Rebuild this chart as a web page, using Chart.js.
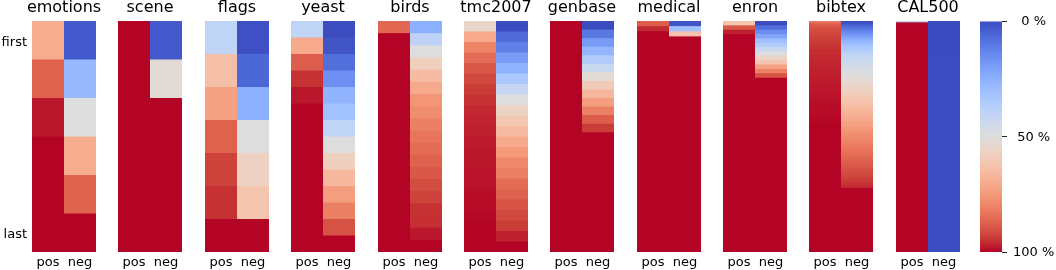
<!DOCTYPE html>
<html><head><meta charset="utf-8">
<script src="https://cdn.jsdelivr.net/npm/chart.js@4.4.1/dist/chart.umd.min.js"></script>
<style>
html,body{margin:0;padding:0;background:#fff;width:1056px;height:270px;overflow:hidden;}
#wrap{position:relative;width:1056px;height:270px;}
canvas{position:absolute;top:0;}
</style></head><body><div id="wrap"></div>
<script>
// ---------- data ----------
const panelTitles = ['emotions','scene','flags','yeast','birds','tmc2007','genbase','medical','enron','bibtex','CAL500'];
const columnLabels = ['pos','neg'];
const rowTickLabels = ['first','last'];
const colorbarTicks = [0, 50, 100];

const emotionsPos = [0.70,0.87,0.98,1,1,1];
const emotionsNeg = [0.03,0.28,0.50,0.70,0.87,1];
const scenePos = [1,1,1,1,1,1];
const sceneNeg = [0.03,0.52,1,1,1,1];
const flagsPos = [0.40,0.64,0.73,0.87,0.93,0.95,1];
const flagsNeg = [0.01,0.06,0.25,0.50,0.57,0.62,1];
const yeastPos = [0.40,0.71,0.88,0.95,0.98,1,1,1,1,1,1,1,1,1];
const yeastNeg = [0.00,0.02,0.08,0.16,0.26,0.31,0.40,0.50,0.58,0.66,0.74,0.81,0.90,1];
const birdsPos = [0.86,1,1,1,1,1,1,1,1,1,1,1,1,1,1,1,1,1,1];
const birdsNeg = [0.25,0.39,0.50,0.58,0.65,0.71,0.76,0.78,0.81,0.83,0.85,0.87,0.89,0.91,0.93,0.95,0.955,0.98,1];
const tmc2007Pos = [0.55,0.71,0.80,0.85,0.89,0.92,0.94,0.95,0.96,0.965,0.97,0.975,0.98,0.98,0.985,0.985,0.99,0.99,0.995,1,1,1];
const tmc2007Neg = [0.00,0.07,0.12,0.19,0.26,0.34,0.42,0.50,0.56,0.61,0.65,0.71,0.75,0.79,0.81,0.85,0.87,0.90,0.92,0.94,0.97,1];
const genbasePos = [1,1,1,1,1,1,1,1,1,1, 1,1,1,1,1,1,1,1,1,1, 1,1,1,1,1,1,1];
const genbaseNeg = [0.00,0.10,0.19,0.27,0.35,0.43,0.52,0.60,0.67,0.74,0.81,0.88,0.94,
  1,1,1,1,1,1,1,1,1,1, 1,1,1,1];
const medicalPos = [0.88,0.96,
  1,1,1,1,1,1,1,1,1,1, 1,1,1,1,1,1,1,1,1,1, 1,1,1,1,1,1,1,1,1,1, 1,1,1,1,1,1,1,1,1,1, 1,1,1];
const medicalNeg = [0.02,0.31,0.63,
  1,1,1,1,1,1,1,1,1,1, 1,1,1,1,1,1,1,1,1,1, 1,1,1,1,1,1,1,1,1,1, 1,1,1,1,1,1,1,1,1,1, 1,1];
const enronPos = [0.62,0.89,0.97,
  1,1,1,1,1,1,1,1,1,1, 1,1,1,1,1,1,1,1,1,1, 1,1,1,1,1,1,1,1,1,1, 1,1,1,1,1,1,1,1,1,1, 1,1,1,1,1,1,1,1,1,1];
const enronNeg = [0.00,0.08,0.15,0.22,0.30,0.36,0.43,0.50,0.56,0.62,0.73,0.81,0.90,
  1,1,1,1,1,1,1,1,1,1, 1,1,1,1,1,1,1,1,1,1, 1,1,1,1,1,1,1,1,1,1, 1,1,1,1,1,1,1,1,1,1];
const bibtexPos = [0.82,0.86,0.88,0.89,0.90,0.905,0.91,
  0.915,0.92,0.925,0.93,0.93,0.935,
  0.94,0.94,0.945,0.945,0.95,0.95,0.95,0.955,0.955,0.955,0.96,0.96,0.96,
  0.962,0.963,0.964,0.965,0.966,0.967,0.968,0.969,0.97,0.97,
  0.971,0.972,0.973,0.974,0.975,0.975,0.976,0.977,0.978,0.979,
  0.98,0.98,0.981,0.982,0.983,0.984,0.985,0.985,0.986,0.987,
  0.988,0.988,0.989,0.99,0.99,0.99,0.991,0.992,0.993,0.993,
  0.994,0.995,0.995,0.996,
  1,1,1,1,1,1,1,1,1,1, 1,1,1,1,1,1,1,1,1,1, 1,1,1,1,1,1,1,1,1,1, 1,1,1,1,1,1,1,1,1,1,
  1,1,1,1,1,1,1,1,1,1, 1,1,1,1,1,1,1,1,1,1, 1,1,1,1,1,1,1,1,1,1, 1,1,1,1,1,1,1,1,1,1,
  1,1,1,1,1,1,1,1,1];
const bibtexNeg = [0.00,0.02,0.04,0.06,0.08,0.10,0.12,0.14,0.16,0.18,
  0.20,0.22,0.24,0.26,0.28,0.29,0.31,0.32,0.34,0.35,
  0.36,0.38,0.39,0.40,0.41,0.42,0.43,0.43,0.44,0.45,
  0.46,0.46,0.47,0.48,0.48,0.49,0.50,0.50,0.51,0.52,
  0.52,0.53,0.54,0.54,0.55,0.56,0.56,0.57,0.58,0.58,
  0.59,0.60,0.61,0.61,0.62,0.63,0.63,0.64,0.65,0.66,
  0.66,0.67,0.68,0.68,0.69,0.70,0.70,0.71,0.71,0.72,
  0.73,0.73,0.74,0.75,0.75,0.76,0.77,0.77,0.78,0.78,
  0.79,0.79,0.80,0.81,0.81,0.82,0.82,0.83,0.83,0.84,
  0.84,0.85,0.85,0.86,0.86,0.87,0.87,0.88,0.88,0.89,
  0.89,0.90,0.90,0.91,0.91,0.92,0.92,0.93,0.93,0.94,
  0.94,0.95,0.95,0.96,0.96,
  1,1,1,1,1,1,1,1,1,1, 1,1,1,1,1,1,1,1,1,1, 1,1,1,1,1,1,1,1,1,1, 1,1,1,1,1,1,1,1,1,1,
  1,1,1,1];
const cal500Pos = [0.40,
  1,1,1,1,1,1,1,1,1,1, 1,1,1,1,1,1,1,1,1,1, 1,1,1,1,1,1,1,1,1,1, 1,1,1,1,1,1,1,1,1,1,
  1,1,1,1,1,1,1,1,1,1, 1,1,1,1,1,1,1,1,1,1, 1,1,1,1,1,1,1,1,1,1, 1,1,1,1,1,1,1,1,1,1,
  1,1,1,1,1,1,1,1,1,1, 1,1,1,1,1,1,1,1,1,1, 1,1,1,1,1,1,1,1,1,1, 1,1,1,1,1,1,1,1,1,1,
  1,1,1,1,1,1,1,1,1,1, 1,1,1,1,1,1,1,1,1,1, 1,1,1,1,1,1,1,1,1,1, 1,1,1,1,1,1,1,1,1,1,
  1,1,1,1,1,1,1,1,1,1, 1,1,1];
const cal500Neg = [
  0,0,0,0,0,0,0,0,0,0, 0,0,0,0,0,0,0,0,0,0, 0,0,0,0,0,0,0,0,0,0, 0,0,0,0,0,0,0,0,0,0,
  0,0,0,0,0,0,0,0,0,0, 0,0,0,0,0,0,0,0,0,0, 0,0,0,0,0,0,0,0,0,0, 0,0,0,0,0,0,0,0,0,0,
  0,0,0,0,0,0,0,0,0,0, 0,0,0,0,0,0,0,0,0,0, 0,0,0,0,0,0,0,0,0,0, 0,0,0,0,0,0,0,0,0,0,
  0,0,0,0,0,0,0,0,0,0, 0,0,0,0,0,0,0,0,0,0, 0,0,0,0,0,0,0,0,0,0, 0,0,0,0,0,0,0,0,0,0,
  0,0,0,0,0,0,0,0,0,0, 0,0,0,0];

const panelPos = [emotionsPos, scenePos, flagsPos, yeastPos, birdsPos, tmc2007Pos, genbasePos, medicalPos, enronPos, bibtexPos, cal500Pos];
const panelNeg = [emotionsNeg, sceneNeg, flagsNeg, yeastNeg, birdsNeg, tmc2007Neg, genbaseNeg, medicalNeg, enronNeg, bibtexNeg, cal500Neg];

// ---------- layout / style ----------
const FONT = 'DejaVu Sans';
const panelLeft = [32,118,205,291,378,464,550,637,723,809,896];
const PANEL_W = 64;
Chart.defaults.font.family = FONT;
Chart.defaults.color = '#000';

// coolwarm colormap anchors
const CW = [
 [0.0,[59,76,192]],[0.0625,[77,104,215]],[0.125,[98,130,234]],[0.1875,[119,154,247]],
 [0.25,[141,176,254]],[0.3125,[163,194,255]],[0.375,[184,208,249]],[0.4375,[204,217,238]],
 [0.5,[221,221,221]],[0.5625,[236,211,197]],[0.625,[245,196,173]],[0.6875,[247,177,148]],
 [0.75,[244,154,123]],[0.8125,[236,127,99]],[0.875,[222,96,77]],[0.9375,[203,62,56]],[1.0,[180,4,38]]
];
function cmap(v){
  v = Math.max(0, Math.min(1, v));
  for (let i=1;i<CW.length;i++){
    if (v <= CW[i][0]){
      const [a,ca] = CW[i-1], [b,cb] = CW[i];
      const t = (v-a)/(b-a);
      const c = ca.map((x,k)=>Math.round(x + (cb[k]-x)*t));
      return `rgb(${c[0]},${c[1]},${c[2]})`;
    }
  }
  return 'rgb(180,4,38)';
}

const wrap = document.getElementById('wrap');
function addCanvas(left, w){
  const cv = document.createElement('canvas');
  cv.width = w; cv.height = 270;
  cv.style.left = left+'px'; cv.style.width = w+'px'; cv.style.height = '270px';
  wrap.appendChild(cv);
  return cv;
}

function makePanel(i){
  const pos = panelPos[i], neg = panelNeg[i];
  const n = pos.length;
  const isFirst = i === 0;
  const pad = isFirst ? 32 : 12;
  const W = PANEL_W + 2*pad;
  const cv = addCanvas(panelLeft[i]-pad, W);
  const datasets = [];
  for (let j=0;j<n;j++){
    datasets.push({
      data: [[0, j+1],[0, j+1]],
      backgroundColor: [cmap(pos[j]), cmap(neg[j])],
      borderWidth: 0, inflateAmount: 0, grouped: false,
      barPercentage: 1, categoryPercentage: 1,
      xAxisID: 'x', yAxisID: 'y'
    });
  }
  new Chart(cv, {
    type: 'bar',
    data: { labels: columnLabels, datasets },
    options: {
      responsive: false, animation: false, events: [],
      layout: { padding: 0 },
      plugins: {
        legend: { display: false }, tooltip: { enabled: false },
        title: { display: true, text: panelTitles[i], color: '#000',
          font: { family: FONT, size: 16, weight: 'normal', lineHeight: 1 },
          padding: { top: 0, bottom: 5 } }
      },
      scales: {
        x: { grid: { display: false, drawTicks: false }, border: { display: false },
             ticks: { color: '#000', font: { family: FONT, size: 13 }, padding: 3, maxRotation: 0, autoSkip: false },
             afterFit: s => { s.height = 18; } },
        y: { type: 'linear', position: 'left', min: 0, max: n, reverse: true,
             grid: { display: false, drawTicks: false }, border: { display: false },
             ticks: { display: isFirst, color: '#000', font: { family: FONT, size: 13 }, padding: 5, labelOffset: 2,
                      callback: (v, idx) => rowTickLabels[idx] },
             afterBuildTicks: s => { s.ticks = [{value: 0.5}, {value: n - 0.5}]; },
             afterFit: s => { s.width = pad; } },
        yr: { type: 'linear', position: 'right', grid: { display: false, drawTicks: false }, border: { display: false },
              ticks: { display: false }, afterFit: s => { s.width = pad; } }
      }
    }
  });
}
for (let i=0;i<panelTitles.length;i++) makePanel(i);

// ---------- colorbar ----------
(function(){
  const cv = addCanvas(968, 88);
  new Chart(cv, {
    type: 'bar',
    data: { labels: [''], datasets: [{
      data: [[0, 100]],
      backgroundColor: ctx => {
        const ca = ctx.chart.chartArea;
        if (!ca) return cmap(0.5);
        const g = ctx.chart.ctx.createLinearGradient(0, ca.top, 0, ca.bottom);
        for (const [t] of CW) g.addColorStop(t, cmap(t));
        return g;
      },
      borderWidth: 0, inflateAmount: 0, barPercentage: 1, categoryPercentage: 1,
      xAxisID: 'x', yAxisID: 'y'
    }]},
    options: {
      responsive: false, animation: false, events: [],
      layout: { padding: { top: 21, bottom: 18, left: 0, right: 0 } },
      plugins: { legend: { display: false }, tooltip: { enabled: false } },
      scales: {
        x: { display: false },
        y: { type: 'linear', position: 'right', min: 0, max: 100, reverse: true,
             grid: { display: true, drawOnChartArea: false, drawTicks: true, tickLength: 5, color: '#222', lineWidth: 1 },
             border: { display: false },
             ticks: { color: '#000', font: { family: FONT, size: 13 }, padding: 6, crossAlign: 'center', labelOffset: 1,
                      callback: v => v + ' %' },
             afterBuildTicks: s => { s.ticks = colorbarTicks.map(v => ({value: v})); },
             afterFit: s => { s.width = 54; } },
        yl: { type: 'linear', position: 'left', grid: { display: false, drawTicks: false }, border: { display: false },
              ticks: { display: false }, afterFit: s => { s.width = 12; } }
      }
    }
  });
})();
</script></body></html>
